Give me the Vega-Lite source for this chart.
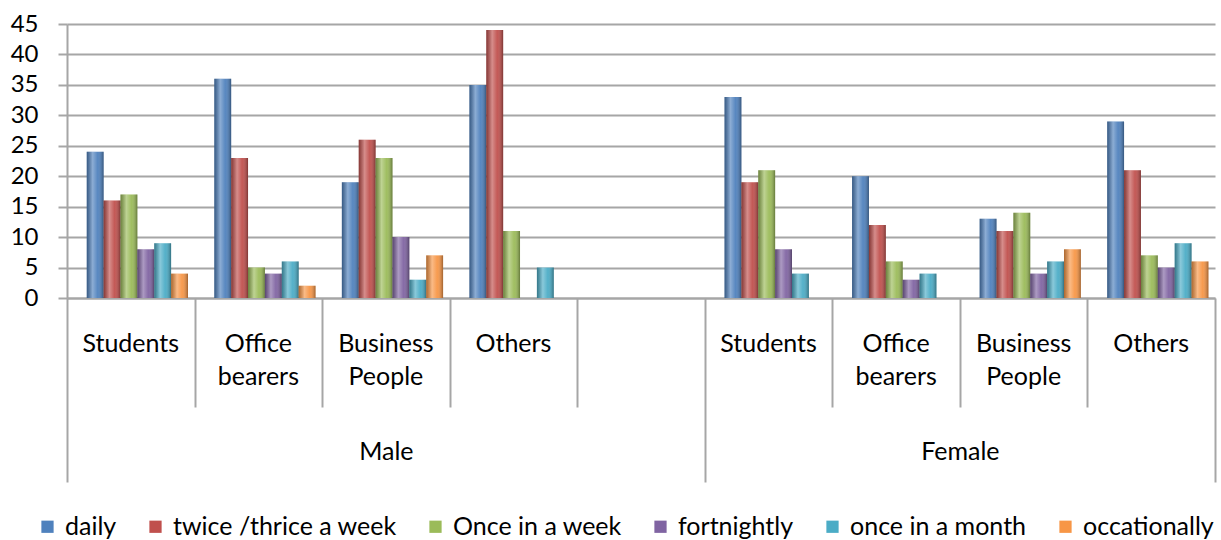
{
  "$schema": "https://vega.github.io/schema/vega-lite/v6.json",
  "width": 1148,
  "height": 274,
  "autosize": {"type": "none"},
  "padding": {"left": 67, "top": 24, "right": 6, "bottom": 242},
  "background": "white",
  "config": {
    "view": {"stroke": null},
    "font": "Lato",
    "axis": {"labelFont": "Lato", "labelColor": "#000000", "titleFont": "Lato"},
    "axisY": {
      "labelOverlap": false,
      "grid": true,
      "gridColor": "#a6a6a6",
      "gridWidth": 2,
      "domainColor": "#a6a6a6",
      "domainWidth": 2,
      "tickColor": "#a6a6a6",
      "tickWidth": 2,
      "labelFontSize": 24
    },
    "legend": {
      "orient": "none",
      "legendX": -32,
      "legendY": 490,
      "direction": "horizontal",
      "padding": 0,
      "symbolType": "square",
      "symbolSize": 150,
      "symbolStrokeWidth": 0,
      "labelFont": "Lato",
      "labelFontSize": 25,
      "labelColor": "#000000",
      "labelOffset": 5,
      "columnPadding": 26,
      "labelLimit": 400
    }
  },
  "data": {
    "values": [
      {"gender": "Male", "occupation": "Students", "frequency": "daily", "count": 24},
      {"gender": "Male", "occupation": "Students", "frequency": "twice /thrice a week", "count": 16},
      {"gender": "Male", "occupation": "Students", "frequency": "Once in a week", "count": 17},
      {"gender": "Male", "occupation": "Students", "frequency": "fortnightly", "count": 8},
      {"gender": "Male", "occupation": "Students", "frequency": "once in a month", "count": 9},
      {"gender": "Male", "occupation": "Students", "frequency": "occationally", "count": 4},
      {"gender": "Male", "occupation": "Office bearers", "frequency": "daily", "count": 36},
      {"gender": "Male", "occupation": "Office bearers", "frequency": "twice /thrice a week", "count": 23},
      {"gender": "Male", "occupation": "Office bearers", "frequency": "Once in a week", "count": 5},
      {"gender": "Male", "occupation": "Office bearers", "frequency": "fortnightly", "count": 4},
      {"gender": "Male", "occupation": "Office bearers", "frequency": "once in a month", "count": 6},
      {"gender": "Male", "occupation": "Office bearers", "frequency": "occationally", "count": 2},
      {"gender": "Male", "occupation": "Business People", "frequency": "daily", "count": 19},
      {"gender": "Male", "occupation": "Business People", "frequency": "twice /thrice a week", "count": 26},
      {"gender": "Male", "occupation": "Business People", "frequency": "Once in a week", "count": 23},
      {"gender": "Male", "occupation": "Business People", "frequency": "fortnightly", "count": 10},
      {"gender": "Male", "occupation": "Business People", "frequency": "once in a month", "count": 3},
      {"gender": "Male", "occupation": "Business People", "frequency": "occationally", "count": 7},
      {"gender": "Male", "occupation": "Others", "frequency": "daily", "count": 35},
      {"gender": "Male", "occupation": "Others", "frequency": "twice /thrice a week", "count": 44},
      {"gender": "Male", "occupation": "Others", "frequency": "Once in a week", "count": 11},
      {"gender": "Male", "occupation": "Others", "frequency": "fortnightly", "count": 0},
      {"gender": "Male", "occupation": "Others", "frequency": "once in a month", "count": 5},
      {"gender": "Male", "occupation": "Others", "frequency": "occationally", "count": 0},
      {"gender": "Female", "occupation": "Students", "frequency": "daily", "count": 33},
      {"gender": "Female", "occupation": "Students", "frequency": "twice /thrice a week", "count": 19},
      {"gender": "Female", "occupation": "Students", "frequency": "Once in a week", "count": 21},
      {"gender": "Female", "occupation": "Students", "frequency": "fortnightly", "count": 8},
      {"gender": "Female", "occupation": "Students", "frequency": "once in a month", "count": 4},
      {"gender": "Female", "occupation": "Students", "frequency": "occationally", "count": 0},
      {"gender": "Female", "occupation": "Office bearers", "frequency": "daily", "count": 20},
      {"gender": "Female", "occupation": "Office bearers", "frequency": "twice /thrice a week", "count": 12},
      {"gender": "Female", "occupation": "Office bearers", "frequency": "Once in a week", "count": 6},
      {"gender": "Female", "occupation": "Office bearers", "frequency": "fortnightly", "count": 3},
      {"gender": "Female", "occupation": "Office bearers", "frequency": "once in a month", "count": 4},
      {"gender": "Female", "occupation": "Office bearers", "frequency": "occationally", "count": 0},
      {"gender": "Female", "occupation": "Business People", "frequency": "daily", "count": 13},
      {"gender": "Female", "occupation": "Business People", "frequency": "twice /thrice a week", "count": 11},
      {"gender": "Female", "occupation": "Business People", "frequency": "Once in a week", "count": 14},
      {"gender": "Female", "occupation": "Business People", "frequency": "fortnightly", "count": 4},
      {"gender": "Female", "occupation": "Business People", "frequency": "once in a month", "count": 6},
      {"gender": "Female", "occupation": "Business People", "frequency": "occationally", "count": 8},
      {"gender": "Female", "occupation": "Others", "frequency": "daily", "count": 29},
      {"gender": "Female", "occupation": "Others", "frequency": "twice /thrice a week", "count": 21},
      {"gender": "Female", "occupation": "Others", "frequency": "Once in a week", "count": 7},
      {"gender": "Female", "occupation": "Others", "frequency": "fortnightly", "count": 5},
      {"gender": "Female", "occupation": "Others", "frequency": "once in a month", "count": 9},
      {"gender": "Female", "occupation": "Others", "frequency": "occationally", "count": 6}
    ]
  },
  "layer": [
    {
      "transform": [
        {"calculate": "(datum.gender == 'Male' ? 'M|' : 'F|') + datum.occupation", "as": "slot"}
      ],
      "mark": {"type": "bar", "cornerRadiusTop": 3},
      "encoding": {
        "x": {
          "field": "slot",
          "type": "nominal",
          "scale": {
            "domain": ["M|Students", "M|Office bearers", "M|Business People", "M|Others", "M|",
                       "F|Students", "F|Office bearers", "F|Business People", "F|Others"],
            "paddingInner": 0,
            "paddingOuter": 0
          },
          "axis": {
            "orient": "bottom",
            "title": null,
            "domain": false,
            "ticks": false,
            "labelAngle": 0,
            "labelFontSize": 25,
            "labelLineHeight": 33,
            "labelPadding": 33,
            "labelBaseline": "top",
            "labelExpr": "split(slice(datum.value, 2), ' ')"
          }
        },
        "xOffset": {
          "field": "frequency",
          "type": "nominal",
          "sort": ["daily", "twice /thrice a week", "Once in a week", "fortnightly", "once in a month", "occationally"],
          "scale": {"paddingInner": 0, "paddingOuter": 0.78, "align": 0.75}
        },
        "y": {
          "field": "count",
          "type": "quantitative",
          "scale": {"domain": [0, 45], "nice": false},
          "axis": {
            "title": null,
            "values": [0, 5, 10, 15, 20, 25, 30, 35, 40, 45],
            "ticks": true,
            "tickSize": 9,
            "labelPadding": 20
          }
        },
        "color": {
          "field": "frequency",
          "type": "nominal",
          "title": null,
          "scale": {
            "domain": ["daily", "twice /thrice a week", "Once in a week", "fortnightly", "once in a month", "occationally"],
            "range": ["#4F81BD", "#C0504D", "#9BBB59", "#8064A2", "#4BACC6", "#F79646"]
          }
        }
      }
    },
    {
      "transform": [
        {"calculate": "(datum.gender == 'Male' ? 'M|' : 'F|') + datum.occupation", "as": "slot"}
      ],
      "mark": {
        "type": "bar",
        "cornerRadiusTop": 3,
        "color": {
          "gradient": "linear",
          "x1": 0, "x2": 1, "y1": 0, "y2": 0,
          "stops": [
            {"offset": 0, "color": "rgba(0,0,0,0.3)"},
            {"offset": 0.35, "color": "rgba(255,255,255,0.35)"},
            {"offset": 0.65, "color": "rgba(255,255,255,0.05)"},
            {"offset": 1, "color": "rgba(0,0,0,0.35)"}
          ]
        }
      },
      "encoding": {
        "x": {
          "field": "slot",
          "type": "nominal",
          "scale": {
            "domain": ["M|Students", "M|Office bearers", "M|Business People", "M|Others", "M|",
                       "F|Students", "F|Office bearers", "F|Business People", "F|Others"],
            "paddingInner": 0,
            "paddingOuter": 0
          },
          "axis": null
        },
        "xOffset": {
          "field": "frequency",
          "type": "nominal",
          "sort": ["daily", "twice /thrice a week", "Once in a week", "fortnightly", "once in a month", "occationally"]
        },
        "y": {
          "field": "count",
          "type": "quantitative",
          "axis": {
            "title": null,
            "values": [0, 5, 10, 15, 20, 25, 30, 35, 40, 45],
            "ticks": true,
            "tickSize": 9,
            "labelPadding": 20
          }
        }
      }
    },
    {
      "data": {"values": [{}]},
      "mark": {"type": "rule", "opacity": 0},
      "encoding": {
        "x": {
          "datum": 0,
          "type": "quantitative",
          "scale": {"domain": [0, 9], "nice": false, "zero": false},
          "axis": {
            "orient": "bottom",
            "title": null,
            "values": [0, 1, 2, 3, 4, 5, 6, 7, 8, 9],
            "labels": false,
            "grid": false,
            "domain": true,
            "domainColor": "#a6a6a6",
            "domainWidth": 2,
            "tickColor": "#a6a6a6",
            "tickWidth": 2,
            "tickSize": {
              "condition": {"test": "datum.value == 0 || datum.value == 5 || datum.value == 9", "value": 184},
              "value": 109
            }
          }
        }
      }
    },
    {
      "data": {"values": [{}]},
      "mark": {"type": "rule", "opacity": 0},
      "encoding": {
        "x": {
          "datum": 0,
          "type": "quantitative",
          "scale": {"domain": [0, 9], "nice": false, "zero": false},
          "axis": {
            "orient": "bottom",
            "title": null,
            "values": [2.5, 7],
            "labelExpr": "datum.value < 5 ? 'Male' : 'Female'",
            "labelFontSize": 25,
            "labelPadding": 141,
            "labelBaseline": "top",
            "labelFlush": false,
            "labelOverlap": false,
            "ticks": false,
            "grid": false,
            "domain": false
          }
        }
      }
    }
  ],
  "resolve": {"scale": {"x": "independent"}}
}
